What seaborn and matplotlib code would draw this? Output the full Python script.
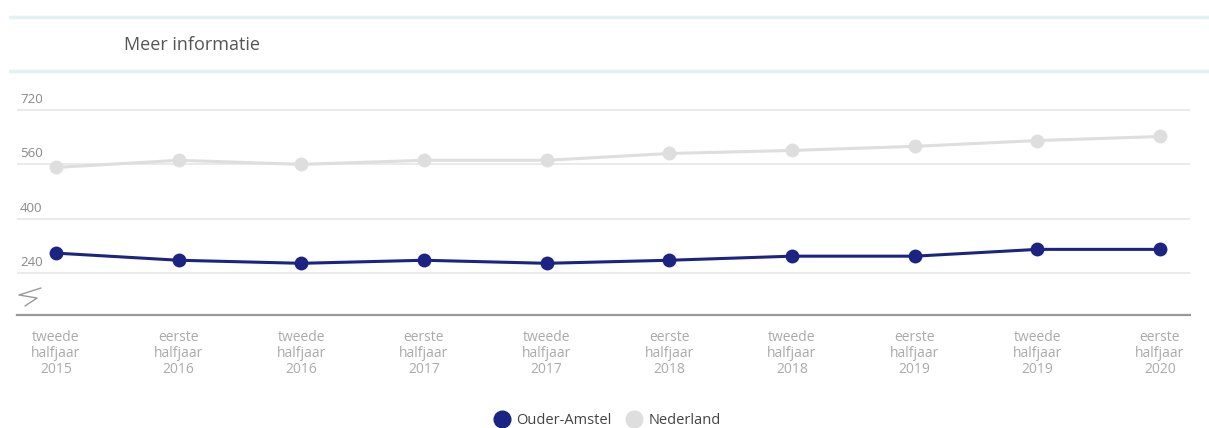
import matplotlib

matplotlib.use("Agg")
import matplotlib.pyplot as plt
import pandas as pd
import seaborn as sns
from matplotlib.lines import Line2D

periods = [
    "tweede\nhalfjaar\n2015", "eerste\nhalfjaar\n2016", "tweede\nhalfjaar\n2016",
    "eerste\nhalfjaar\n2017", "tweede\nhalfjaar\n2017", "eerste\nhalfjaar\n2018",
    "tweede\nhalfjaar\n2018", "eerste\nhalfjaar\n2019", "tweede\nhalfjaar\n2019",
    "eerste\nhalfjaar\n2020",
]
ouder_amstel = [299, 278, 269, 278, 269, 278, 290, 290, 310, 310]
nederland = [551, 572, 560, 572, 572, 592, 601, 613, 630, 642]
y_ticks = [240, 400, 560, 720]

NAVY = "#1b2483"
LIGHT = "#dedede"

df = pd.DataFrame({
    "pos": list(range(len(periods))) * 2,
    "waarde": nederland + ouder_amstel,
    "regio": ["Nederland"] * len(periods) + ["Ouder-Amstel"] * len(periods),
})

sns.set_theme(style="white")
plt.rcParams["font.family"] = ["Open Sans", "DejaVu Sans"]

W, H = 1209, 428
fig = plt.figure(figsize=(W / 100, H / 100), dpi=100)
ax = fig.add_axes([17 / W, 1 - 315 / H, 1173 / W, 220 / H])

sns.lineplot(
    data=df, x="pos", y="waarde", hue="regio",
    palette={"Nederland": LIGHT, "Ouder-Amstel": NAVY},
    marker="o", markersize=10, markeredgewidth=0, linewidth=2.2,
    legend=False, ax=ax,
)

step = (1160 - 56) / 9
ax.set_xlim(-(56 - 17) / step, 9 + (1190 - 1160) / step)
ax.set_ylim(117, 764)

for v in y_ticks:
    ax.axhline(v, color="#e6e6e6", lw=1.2, zorder=0)
    ax.text(3 / 1173, v + 12, str(v), transform=ax.get_yaxis_transform(),
            fontsize=9.5, color="#888888", va="bottom", ha="left")

ax.set_yticks([])
ax.set_xticks(range(len(periods)))
ax.set_xticklabels(periods, fontsize=10, color="#aaaaaa", linespacing=1.1)
ax.tick_params(axis="x", length=0, pad=11)
ax.set_xlabel("")
ax.set_ylabel("")
for s in ["top", "right", "left"]:
    ax.spines[s].set_visible(False)
ax.spines["bottom"].set_color("#999999")
ax.spines["bottom"].set_linewidth(1.6)

# axis break mark
zx = [41, 19, 37, 25]
zy = [288, 295, 298, 306]
fig.add_artist(Line2D([x / W for x in zx], [1 - y / H for y in zy],
                      color="#999999", lw=1.0, transform=fig.transFigure))

# header band
for yy in (17, 71):
    fig.add_artist(Line2D([10 / W, 1], [1 - yy / H] * 2, color="#e2f1f2",
                          lw=2.5, transform=fig.transFigure))
fig.text(124 / W, 1 - 45 / H, "Meer informatie", fontsize=13, color="#555555",
         va="center", ha="left")

handles = [
    Line2D([], [], marker="o", ls="", color=NAVY, markersize=12),
    Line2D([], [], marker="o", ls="", color=LIGHT, markersize=12),
]
fig.legend(handles, ["Ouder-Amstel", "Nederland"], loc="center",
           bbox_to_anchor=(604 / W, 1 - 421 / H), ncol=2, frameon=False,
           handletextpad=0.0, columnspacing=0.5, fontsize=10.5,
           labelcolor="#444444")

fig.savefig("out.png", dpi=100)
